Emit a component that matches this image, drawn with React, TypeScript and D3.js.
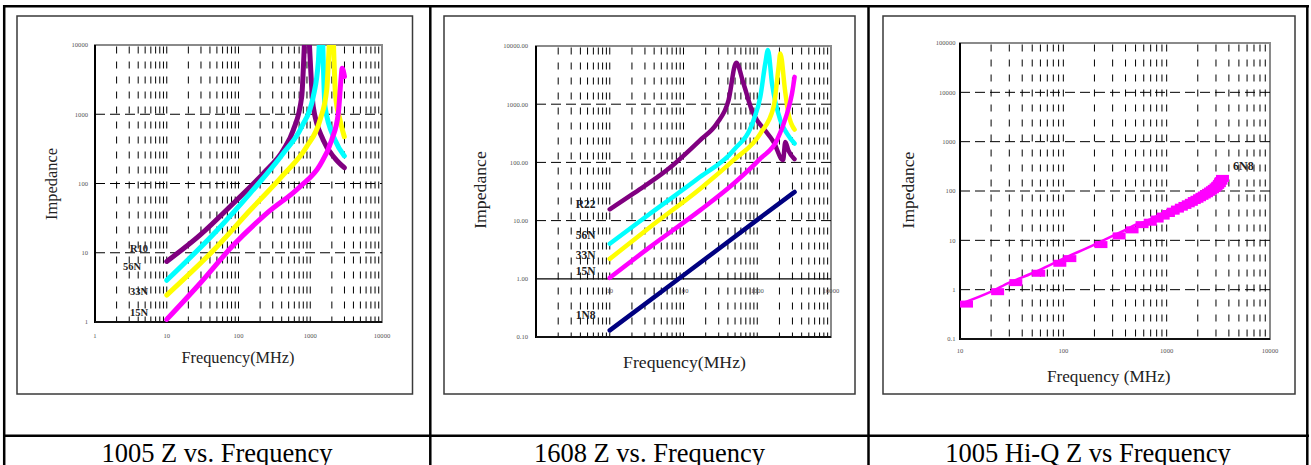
import * as d3 from "d3";

type Pt = [number, number];

const PURPLE = "#800080";
const CYAN = "#00FFFF";
const YELLOW = "#FFFF00";
const MAGENTA = "#FF00FF";
const NAVY = "#000080";
const FONT = "'Liberation Serif', 'Times New Roman', serif";

// 1005 Z vs. Frequency  [MHz, ohm]
const r10_1005: Pt[] = [[10, 7.5], [29, 18], [85, 52], [222, 140], [421, 305], [580, 590], [760, 1790], [890, 30000], [1100, 1285], [1515, 425], [2213, 231], [2985, 169]];
const n56_1005: Pt[] = [[10, 4.0], [50, 21], [145, 72], [421, 273], [760, 660], [1100, 1790], [1300, 6000], [1420, 30000], [1607, 1285], [2213, 425], [2985, 250]];
const n33_1005: Pt[] = [[10, 2.45], [50, 12.2], [145, 41], [421, 133], [890, 340], [1368, 826], [1695, 2240], [1990, 30000], [2250, 1900], [2600, 826], [2985, 474]];
const n15_1005: Pt[] = [[10, 1.09], [29, 3.6], [85, 12.9], [247, 37], [719, 90], [1368, 185], [1990, 425], [2460, 1030], [2700, 3480], [2780, 4600], [3000, 3500]];

// 1608 Z vs. Frequency
const r22_1608: Pt[] = [[10, 15.6], [20.8, 29], [59, 73], [167, 240], [283, 466], [408, 1170], [518, 5140], [651, 2270], [846, 788], [991, 531], [1220, 382], [1667, 224], [2240, 110], [2400, 224], [2640, 161], [3200, 114]];
const n56_1608: Pt[] = [[10, 4.0], [35, 13.1], [167, 56], [476, 161], [891, 531], [1100, 1336], [1285, 5000], [1397, 8500], [1585, 2270], [2056, 531], [2535, 313], [3210, 211]];
const n33_1608: Pt[] = [[10, 2.2], [35, 7.7], [167, 35], [476, 109], [1100, 313], [1667, 900], [1950, 4390], [2056, 7460], [2380, 1740], [2640, 692], [3210, 367]];
const n15_1608: Pt[] = [[10, 1.04], [35, 3.5], [167, 15], [476, 43], [1100, 116], [1850, 240], [2535, 692], [2960, 1528], [3210, 2950]];
const n1N8_1608: Pt[] = [[10, 0.13], [100, 1.15], [1000, 10.3], [3210, 31]];

// 1005 Hi-Q 6N8
const hiqFreq = [10, 20, 30, 50, 80, 100, 200, 300, 400, 500, 600, 700, 800, 900, 1000, 1100, 1200, 1300, 1400, 1500, 1600, 1700, 1800, 1900, 2000, 2100, 2200, 2300, 2400, 2500, 2600, 2700, 2800, 2900, 3000];
const hiqZ = [0.51, 0.91, 1.39, 2.15, 3.43, 4.26, 8.2, 12.3, 16.3, 20.8, 23.3, 27, 31, 35, 39, 43, 47, 51, 55, 59, 64, 68, 73, 78, 83, 88, 94, 100, 106, 113, 121, 130, 141, 158, 180];

const xTicks1 = [1, 10, 100, 1000, 10000];
const xTicks2 = [10, 100, 1000, 10000];
const yTicks1 = [1, 10, 100, 1000, 10000];
const yTicks2 = [0.1, 1, 10, 100, 1000, 10000];
const yTicks3 = [0.1, 1, 10, 100, 1000, 10000, 100000];

interface Series { data: Pt[]; color: string; width: number; markers?: boolean }
interface Label { text: string; at: Pt }

interface PanelProps {
  id: string;
  frame: [number, number, number, number];
  plot: [number, number, number, number];
  xDom: [number, number];
  yDom: [number, number];
  xTicks: number[];
  yTicks: number[];
  yFmt: (v: number) => string;
  xCross: number;
  xLabelDy: number;
  yLabelGap: number;
  yTitle: [number, number, number];
  xTitle: [number, number, number];
  xTitleText: string;
  series: Series[];
  labels: Label[];
  labelSize: number;
}

function minorValues(lo: number, hi: number) {
  const out: number[] = [];
  const e0 = Math.round(Math.log10(lo));
  const e1 = Math.round(Math.log10(hi));
  for (let e = e0; e < e1; e++) {
    for (let m = 1; m < 10; m++) {
      const v = m * Math.pow(10, e);
      if (v > lo * 1.0001 && v < hi * 0.9999) out.push(v);
    }
  }
  return out;
}

function decades(lo: number, hi: number) {
  const out: number[] = [];
  const e0 = Math.round(Math.log10(lo));
  const e1 = Math.round(Math.log10(hi));
  for (let e = e0 + 1; e < e1; e++) out.push(Math.pow(10, e));
  return out;
}

const Panel = (p: PanelProps) => {
  const [px0, py0, px1, py1] = p.plot;
  const x = d3.scaleLog().domain(p.xDom).range([px0, px1]);
  const y = d3.scaleLog().domain(p.yDom).range([py1, py0]);
  const line = d3.line<Pt>().x(d => x(d[0])).y(d => y(d[1])).curve(d3.curveMonotoneX);
  const crossY = y(p.xCross);
  const [fx0, fy0, fx1, fy1] = p.frame;

  return (
    <g>
      <defs>
        <clipPath id={`clip-${p.id}`}>
          <rect x={px0} y={py0} width={px1 - px0} height={py1 - py0} />
        </clipPath>
      </defs>
      <rect x={fx0} y={fy0} width={fx1 - fx0} height={fy1 - fy0} fill="#fff" stroke="#3a3a3a" strokeWidth={1.5} />
      <rect x={px0} y={py0} width={px1 - px0} height={py1 - py0} fill="#fff" stroke="#8a8a8a" strokeWidth={2} />

      {minorValues(p.xDom[0], p.xDom[1]).map(v => (
        <line key={`vx${v}`} x1={x(v)} x2={x(v)} y1={py0 + 1.5} y2={py1} stroke="#000" strokeWidth={1} strokeDasharray="7,8" />
      ))}
      {decades(p.yDom[0], p.yDom[1]).filter(v => v !== p.xCross || p.xCross === p.yDom[0]).map(v => (
        <line key={`hy${v}`} x1={px0} x2={px1} y1={y(v)} y2={y(v)} stroke="#000" strokeWidth={1} strokeDasharray="10,5" />
      ))}

      {/* axes */}
      <line x1={px0} x2={px0} y1={py0} y2={py1 + 1} stroke="#000" strokeWidth={2} />
      <line x1={px0} x2={px1} y1={py1} y2={py1} stroke="#111" strokeWidth={2} />
      {p.xCross !== p.yDom[0] && (
        <line x1={px0} x2={px1} y1={crossY} y2={crossY} stroke="#000" strokeWidth={1.2} />
      )}

      <g clipPath={`url(#clip-${p.id})`}>
        {p.series.map((s, i) => (
          <g key={i}>
            <path d={line(s.data) ?? ""} fill="none" stroke={s.color} strokeWidth={s.width} strokeLinecap="round" strokeLinejoin="round" />
          </g>
        ))}
      </g>
      {p.series.filter(s => s.markers).map((s, i) => (
        <g key={`m${i}`}>
          {s.data.map((d, j) => (
            <rect key={j} x={x(d[0])} y={y(d[1]) - 3.5} width={13} height={7} fill={s.color} />
          ))}
        </g>
      ))}

      {/* tick labels */}
      {p.yTicks.map(v => (
        <text key={`yl${v}`} x={px0 - p.yLabelGap} y={y(v) + 2.3} textAnchor="end" fontSize={6.6} fill="#555" fontFamily={FONT}>
          {p.yFmt(v)}
        </text>
      ))}
      {p.xTicks.map(v => (
        <text key={`xl${v}`} x={x(v)} y={crossY + p.xLabelDy} textAnchor="middle" fontSize={6.6} fill="#555" fontFamily={FONT}>
          {v}
        </text>
      ))}

      {p.labels.map(l => (
        <text key={l.text} x={x(l.at[0])} y={y(l.at[1])} fontSize={p.labelSize} fontWeight="bold" fill="#222" fontFamily={FONT}>
          {l.text}
        </text>
      ))}

      <text transform={`translate(${p.yTitle[0]},${p.yTitle[1]}) rotate(-90)`} textAnchor="middle" fontSize={p.yTitle[2]} fill="#222" fontFamily={FONT}>
        Impedance
      </text>
      <text x={p.xTitle[0]} y={p.xTitle[1]} textAnchor="middle" fontSize={p.xTitle[2]} fill="#222" fontFamily={FONT}>
        {p.xTitleText}
      </text>
    </g>
  );
};

const App = () => {
  const hiq: Pt[] = hiqFreq.map((f, i) => [f, hiqZ[i]]);
  const captions = [
    { text: "1005 Z vs. Frequency", x: 217 },
    { text: "1608 Z vs. Frequency", x: 649.5 },
    { text: "1005 Hi-Q Z vs Frequency", x: 1088 },
  ];
  return (
    <svg width={1311} height={465} style={{ position: "absolute", left: 0, top: 0, display: "block" }}>
      <rect width={1311} height={465} fill="#fff" />

      <Panel
        id="p1"
        frame={[17, 16, 412.5, 394]}
        plot={[95, 45, 382, 322]}
        xDom={[1, 10000]}
        yDom={[1, 10000]}
        xTicks={xTicks1}
        yTicks={yTicks1}
        yFmt={v => String(v)}
        xCross={1}
        xLabelDy={15.5}
        yLabelGap={7}
        yTitle={[57, 184, 16.4]}
        xTitle={[238, 363, 16.3]}
        xTitleText="Frequency(MHz)"
        labelSize={10.5}
        series={[
          { data: r10_1005, color: PURPLE, width: 5 },
          { data: n56_1005, color: CYAN, width: 5 },
          { data: n33_1005, color: YELLOW, width: 5 },
          { data: n15_1005, color: MAGENTA, width: 5 },
        ]}
        labels={[
          { text: "R10", at: [3.07, 10.2] },
          { text: "56N", at: [2.46, 5.6] },
          { text: "33N", at: [3.07, 2.45] },
          { text: "15N", at: [3.07, 1.22] },
        ]}
      />

      <Panel
        id="p2"
        frame={[444, 16, 855, 394]}
        plot={[536, 46, 831, 337]}
        xDom={[1, 10000]}
        yDom={[0.1, 10000]}
        xTicks={xTicks2}
        yTicks={yTicks2}
        yFmt={v => v.toFixed(2)}
        xCross={1}
        xLabelDy={13.7}
        yLabelGap={8}
        yTitle={[486, 190, 17.7]}
        xTitle={[684.5, 367.5, 17.7]}
        xTitleText="Frequency(MHz)"
        labelSize={11.5}
        series={[
          { data: r22_1608, color: PURPLE, width: 4.5 },
          { data: n56_1608, color: CYAN, width: 4.5 },
          { data: n33_1608, color: YELLOW, width: 4.5 },
          { data: n15_1608, color: MAGENTA, width: 4.5 },
          { data: n1N8_1608, color: NAVY, width: 4.5 },
        ]}
        labels={[
          { text: "R22", at: [3.46, 16.5] },
          { text: "56N", at: [3.46, 4.9] },
          { text: "33N", at: [3.46, 2.15] },
          { text: "15N", at: [3.46, 1.14] },
          { text: "1N8", at: [3.46, 0.207] },
        ]}
      />

      <Panel
        id="p3"
        frame={[883, 16, 1295, 394]}
        plot={[960, 43, 1270, 339]}
        xDom={[10, 10000]}
        yDom={[0.1, 100000]}
        xTicks={xTicks2}
        yTicks={yTicks3}
        yFmt={v => String(v)}
        xCross={0.1}
        xLabelDy={13.5}
        yLabelGap={4.5}
        yTitle={[914, 190, 17.5]}
        xTitle={[1108.7, 382, 17.2]}
        xTitleText="Frequency (MHz)"
        labelSize={12}
        series={[{ data: hiq, color: MAGENTA, width: 2.5, markers: true }]}
        labels={[{ text: "6N8", at: [4395, 268] }]}
      />

      {/* table grid */}
      <g stroke="#000" strokeWidth={2.5}>
        <line x1={3} x2={1309} y1={6.2} y2={6.2} />
        <line x1={3} x2={1309} y1={435.8} y2={435.8} />
        <line x1={4.2} x2={4.2} y1={5} y2={470} />
        <line x1={430.3} x2={430.3} y1={5} y2={470} />
        <line x1={868.5} x2={868.5} y1={5} y2={470} />
        <line x1={1307.3} x2={1307.3} y1={5} y2={470} />
      </g>

      {captions.map(c => (
        <text key={c.text} x={c.x} y={461.5} textAnchor="middle" fontSize={26.5} fill="#000" fontFamily={FONT}>
          {c.text}
        </text>
      ))}
    </svg>
  );
};

export default App;
